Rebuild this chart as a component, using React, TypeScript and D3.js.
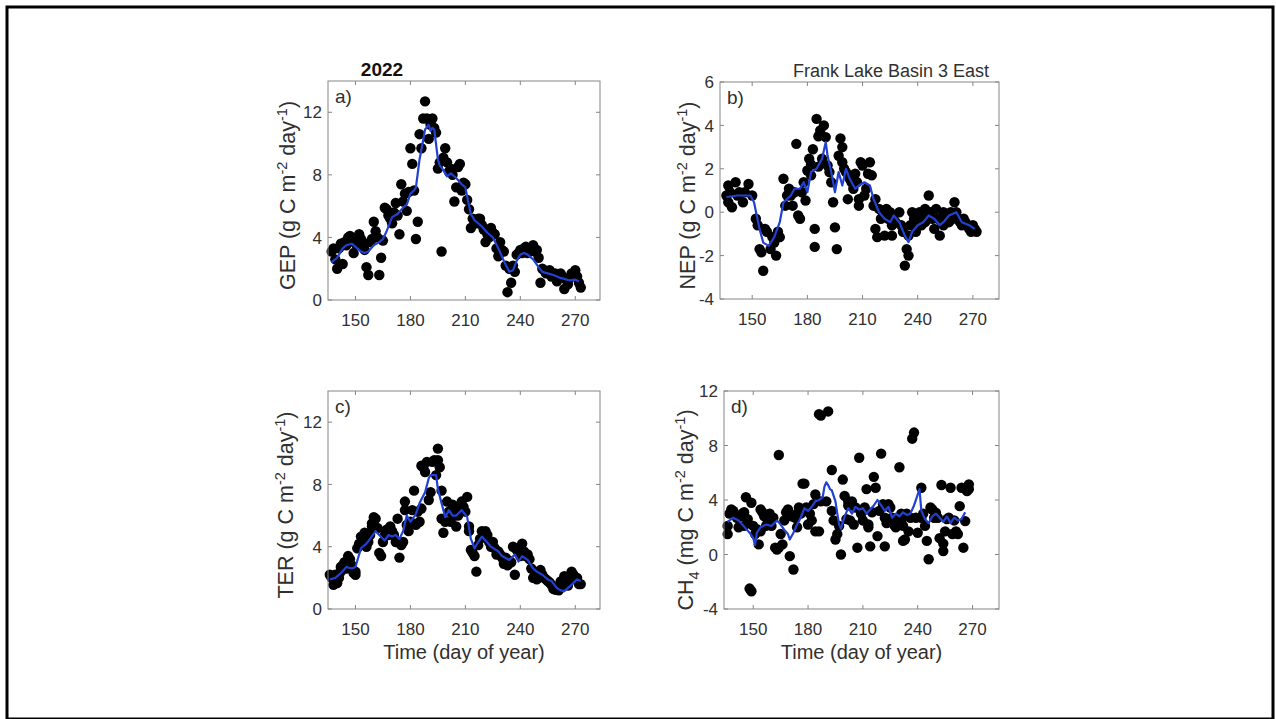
import React from 'react';
import * as d3 from 'd3';

const W = 1276;
const H = 719;

const xTicks = [150, 180, 210, 240, 270];

// ---------- a) GEP ----------
const gepDays = [137,138,139,140,141,142,143,144,145,146,147,148,149,150,151,152,153,154,155,156,157,158,159,160,161,162,163,164,165,166,167,168,169,170,171,172,173,174,175,176,177,178,179,180,181,182,183,184,185,186,187,188,189,190,191,192,193,194,195,196,197,198,199,200,201,202,203,204,205,206,207,208,209,210,211,212,213,214,215,216,217,218,219,220,221,222,223,224,225,226,227,228,229,230,231,232,233,234,235,236,237,238,239,240,241,242,243,244,245,246,247,248,249,250,251,252,253,254,255,256,257,258,259,260,261,262,263,264,265,266,267,268,269,270,271,272,273];
const gepVals = [3.1,3.3,2.6,2.0,3.3,3.6,2.3,3.7,3.5,4.0,4.1,3.8,3.0,3.6,3.7,4.2,3.9,3.5,3.2,2.1,1.6,3.7,3.9,5.0,4.4,4.0,1.6,2.7,3.8,5.9,5.8,5.4,5.2,4.9,5.6,6.2,5.4,4.2,7.4,6.3,6.8,5.7,6.9,9.7,8.7,7.0,3.9,5.0,10.6,9.7,11.6,12.7,11.6,10.3,11.2,11.6,11.0,10.7,8.4,8.8,3.1,9.1,9.7,8.8,8.2,8.4,8.0,6.3,7.2,8.5,8.7,7.0,7.5,7.4,6.4,5.8,4.6,5.2,5.0,4.9,5.2,5.2,4.8,4.5,3.7,4.2,4.0,4.6,4.3,4.2,3.3,2.8,3.7,3.2,3.1,2.2,0.5,2.0,1.1,2.2,1.8,2.9,3.0,3.2,3.0,3.3,3.4,3.0,3.2,3.3,3.5,3.1,3.2,2.7,1.1,2.0,1.9,1.7,1.8,1.9,1.5,1.6,1.7,1.2,1.6,1.7,1.5,0.7,1.3,1.0,1.4,1.7,1.6,1.9,1.5,1.1,0.8];
const gepLineDays = [137,140,143,145,148,151,153,155,157,160,163,165,167,170,173,176,178,180,182,183,185,186,188,190,191,192,193,195,196,198,200,202,205,208,210,211,213,215,219,222,225,228,231,234,236,238,240,242,244,247,250,252,255,258,261,264,267,270,272];
const gepLineVals = [2.4,2.7,3.3,3.5,3.6,3.3,3.1,3.0,3.1,3.5,3.7,3.9,4.4,5.3,5.5,5.9,6.1,6.8,7.0,7.2,9.0,9.6,10.9,11.2,10.8,11.0,10.9,9.0,8.6,8.3,7.9,8.1,7.8,7.4,7.2,6.6,5.5,5.1,4.7,4.3,4.0,3.3,2.5,1.8,1.9,2.5,2.9,3.0,2.9,2.6,2.1,1.8,1.7,1.6,1.45,1.35,1.25,1.3,1.2];

// ---------- b) NEP ----------
const nepDays = [136,137,137,138,139,141,142,143,145,146,148,150,152,153,154,155,156,157,158,160,161,162,163,164,165,167,168,169,170,171,172,173,174,175,176,177,178,179,180,181,182,182,183,184,184,185,186,186,187,188,189,190,191,192,193,194,195,196,197,198,199,199,200,201,202,203,204,205,206,207,208,208,209,210,211,212,213,214,215,216,217,217,218,219,220,221,222,223,224,225,226,226,227,228,230,231,232,233,234,235,235,236,237,238,239,240,241,242,243,244,244,245,246,247,248,249,250,251,252,253,254,254,255,256,257,258,259,260,261,262,263,264,265,266,267,268,269,270,271,272];
const nepVals = [0.77,1.23,0.46,0.92,0.23,1.38,0.77,0.92,0.46,0.92,1.3,0.77,-0.3,-0.6,-1.7,-1.85,-2.7,-0.77,-0.9,-1.7,-1.15,-1.4,-2.0,-0.9,-1.15,1.54,0.3,0.77,1.08,0.77,0.3,0.92,3.15,-0.15,-0.3,0.92,1.38,0.54,1.92,2.46,1.7,2.2,2.9,-0.77,-1.6,4.3,3.5,2.1,3.77,2.46,4.0,3.46,2.15,1.85,1.38,0.46,-0.7,-1.7,2.6,3.4,3.0,2.3,2.0,1.85,0.6,1.54,1.38,1.08,1.77,1.38,0.3,0.6,2.3,2.15,0.77,1.08,1.77,2.3,1.7,0.3,0.6,-0.77,-1.15,0.15,-0.3,0,-1.08,0.15,-0.3,0,-0.6,-1.08,-0.15,-0.46,0,-0.6,-0.9,-2.46,-1.7,-2.0,-1.08,-0.6,0,-0.3,-0.9,-0.46,0,-0.6,-0.3,0.15,-0.46,-0.08,0.77,0,-0.3,-0.77,0.15,-0.3,-1.08,-0.46,0,-0.6,-0.3,-0.15,-0.46,0,-0.3,0.46,0,-0.3,-0.46,-0.6,-0.3,-0.46,-0.6,-0.77,-0.9,-0.6,-0.77,-0.9];
const nepLineDays = [136,142,149,151,154,156,159,162,165,167,171,173,176,178,180,182,185,188,190,191,193,195,197,199,201,203,206,208,211,214,216,219,222,225,227,230,233,235,237,240,243,246,249,252,254,257,261,264,268,271];
const nepLineVals = [0.7,0.77,0.77,0.46,-0.77,-1.4,-1.55,-1.15,-0.46,0.46,0.77,1.08,1.08,1.38,0.92,1.85,2.0,2.46,3.23,2.6,1.85,0.92,1.85,1.23,2.0,1.54,1.08,1.23,1.38,1.23,0.6,0,-0.3,-0.46,-0.15,-0.46,-1.08,-1.38,-0.9,-0.6,-0.46,-0.15,-0.3,-0.6,-0.46,-0.15,0,-0.46,-0.6,-0.77];

// ---------- c) TER ----------
const terDays = [136,137,138,139,140,141,142,142,143,144,145,146,147,148,149,150,150,151,152,153,154,155,156,157,158,159,159,160,161,162,163,164,165,166,167,168,168,169,170,171,172,173,174,175,176,177,177,178,179,180,181,182,183,184,185,186,186,187,188,189,190,191,192,193,194,195,195,196,197,197,198,199,200,201,202,203,204,204,205,206,207,208,209,210,211,212,212,213,214,215,216,217,218,219,220,221,222,222,223,224,225,226,227,228,229,230,231,231,232,233,234,235,236,237,238,239,240,241,242,243,244,245,246,247,248,249,250,250,251,252,253,254,255,256,257,258,259,260,261,262,263,264,265,266,267,268,269,270,271,272,273];
const terVals = [2.2,2.0,1.55,2.2,1.66,2.0,2.7,2.4,2.8,3.0,2.6,3.4,3.2,2.8,2.3,2.4,2.2,3.9,4.2,4.65,4.4,4.9,4.0,4.3,4.75,5.3,5.5,5.9,5.8,5.2,3.6,3.4,4.3,4.75,5.1,4.75,5.0,5.3,5.0,4.75,4.3,5.8,3.3,4.1,4.3,6.35,6.9,5.4,5.0,5.6,6.35,7.6,5.4,6.25,5.6,6.45,9.2,9.1,8.8,9.45,7.0,7.5,9.45,9.55,8.6,10.3,9.55,9.1,7.6,5.8,4.9,5.6,6.9,6.25,5.6,6.7,6.0,6.45,5.3,6.0,6.45,6.9,6.55,6.25,7.2,5.3,5.0,3.8,3.6,3.4,2.4,4.1,4.5,5.0,4.65,5.0,4.75,4.5,4.3,4.0,4.3,3.9,3.5,3.7,3.5,3.3,2.9,3.2,3.3,2.8,3.1,3.0,4.0,2.2,3.8,3.7,3.4,4.2,3.7,3.4,3.5,3.2,2.6,2.0,2.2,1.9,2.4,2.3,2.5,2.2,2.0,1.9,1.8,1.7,1.55,1.3,1.24,1.34,1.2,1.77,1.5,2.1,1.98,1.5,2.0,2.4,2.2,1.9,2.0,1.6,1.6];
const terLineDays = [136,139,142,145,148,150,153,156,158,161,163,166,168,170,172,174,176,178,180,183,185,188,190,191,194,195,197,199,201,203,205,208,211,213,215,217,219,221,224,228,230,234,237,239,241,244,247,249,252,255,257,260,262,264,267,271,273];
const terLineVals = [1.9,2.0,2.3,2.7,2.6,2.7,3.9,4.2,4.5,5.0,4.75,4.4,4.75,4.65,4.75,4.5,5.0,6.0,5.6,6.1,6.8,7.5,8.4,8.6,8.6,7.7,6.8,5.9,6.35,6.0,6.0,6.35,5.9,4.5,3.9,4.3,4.65,4.4,4.0,3.7,3.4,3.15,3.5,3.05,3.4,3.15,2.6,2.4,2.2,1.9,1.8,1.34,1.2,1.15,1.45,1.9,1.8];

// ---------- d) CH4 ----------
const ch4Days = [136,136,137,138,139,141,142,143,144,145,145,146,147,148,149,149,150,151,152,153,154,154,155,156,157,158,159,160,161,162,163,164,164,165,166,167,168,169,170,171,172,173,174,174,175,176,177,178,179,180,181,182,183,184,184,186,187,186,187,190,191,193,193,194,195,196,197,198,199,200,201,202,202,203,204,205,206,207,208,209,210,211,212,213,213,214,215,216,217,218,219,220,221,222,222,223,224,225,226,227,228,230,231,231,232,232,233,234,235,236,237,238,239,240,242,242,243,244,245,246,247,248,249,250,251,252,253,254,254,255,256,257,258,259,260,261,262,263,264,265,266,267,268,268];
const ch4Vals = [1.5,2.1,3.0,3.3,3.2,2.7,2.0,2.8,3.0,2.1,3.1,4.2,2.6,-2.5,-2.7,3.8,2.1,1.5,1.85,0.74,1.7,3.3,3.1,2.8,2.1,2.5,3.0,2.1,2.7,0.5,0.37,7.3,0.5,1.5,0.74,2.5,3.1,3.3,-0.12,2.8,-1.1,2.7,3.0,2.0,3.45,3.0,5.2,5.2,3.45,2.2,3.0,2.5,3.7,4.4,1.7,10.3,10.2,1.7,3.9,3.9,10.5,6.2,3.2,2.5,1.1,1.5,2.1,0,5.5,4.3,2.6,3.9,3.6,2.5,3.9,2.2,3.45,0.5,7.1,3.0,2.5,3.45,4.8,2.2,2.0,0.6,3.1,5.7,4.9,1.35,3.2,7.4,3.7,2.7,0.6,2.3,3.7,3.45,2.7,2.2,2.0,6.4,3.0,2.5,1.0,2.1,1.1,3.0,1.7,2.7,8.5,8.95,2.7,1.6,4.9,2.7,3.0,2.1,1.0,-0.35,3.45,3.3,2.7,3.06,2.7,1.2,5.1,0.8,0.25,1.7,2.6,2.7,4.9,1.5,2.5,1.7,1.5,3.55,4.9,0.5,2.45,4.65,5.15,4.8];
const ch4LineDays = [136,139,142,144,146,148,150,151,152,154,157,160,163,165,167,169,170,172,174,176,178,180,182,184,186,188,189,190,191,192,193,195,196,197,198,200,202,204,206,208,210,212,214,216,218,220,222,224,226,228,230,232,234,236,238,240,241,242,244,246,248,250,252,254,256,258,260,262,264,266];
const ch4LineVals = [2.4,2.7,2.5,2.2,1.9,1.6,1.2,0.7,1.6,2.0,2.2,2.1,2.5,2.2,1.8,1.5,1.1,1.6,2.2,2.7,3.4,3.2,3.5,3.9,4.0,4.2,5.0,5.3,5.1,4.8,4.7,3.9,3.0,2.2,1.9,2.8,3.4,3.0,3.5,3.3,3.4,3.0,3.3,3.6,4.0,3.6,3.2,3.5,2.7,3.0,2.8,3.1,2.9,3.0,3.6,4.4,4.8,3.2,2.6,2.3,2.8,3.0,2.7,2.4,2.8,2.3,2.7,2.5,2.6,3.1];

const gepTicks = [0, 4, 8, 12];
const nepTicks = [-4, -2, 0, 2, 4, 6];
const terTicks = [0, 4, 8, 12];
const ch4Ticks = [-4, 0, 4, 8, 12];

const FONT = '"Liberation Sans", Arial, Helvetica, sans-serif';
const AXIS_COLOR = '#858585';
const TEXT_COLOR = '#303030';
const LINE_COLOR = '#2141d2';

type Box = { x0: number; x1: number; y0: number; y1: number };

function Panel(props: {
  box: Box;
  xDomain: [number, number];
  yDomain: [number, number];
  yTicks: number[];
  days: number[];
  vals: number[];
  lineDays: number[];
  lineVals: number[];
  tag: string;
  ylabel: React.ReactNode;
  ylabelX: number;
  ylabelDy: number;
  xlabel?: string;
}) {
  const { box, xDomain, yDomain, yTicks, days, vals, lineDays, lineVals, tag, ylabel, ylabelX, ylabelDy, xlabel } = props;
  const x = d3.scaleLinear().domain(xDomain).range([box.x0, box.x1]);
  const y = d3.scaleLinear().domain(yDomain).range([box.y1, box.y0]);
  const lineGen = d3
    .line<number>()
    .x((_, i) => x(lineDays[i]))
    .y((d) => y(d));
  const path = lineGen(lineVals) || '';
  const tl = 4;
  const cy = (box.y0 + box.y1) / 2;
  const cx = (box.x0 + box.x1) / 2;
  return (
    <g>
      <rect x={box.x0} y={box.y0} width={box.x1 - box.x0} height={box.y1 - box.y0} fill="#fff" stroke="none" />
      {days.map((d, i) => (
        <circle key={i} cx={x(d)} cy={y(vals[i])} r={5.2} fill="#000" />
      ))}
      <path d={path} fill="none" stroke={LINE_COLOR} strokeWidth={2.2} strokeLinejoin="round" />
      <rect x={box.x0} y={box.y0} width={box.x1 - box.x0} height={box.y1 - box.y0} fill="none" stroke={AXIS_COLOR} strokeWidth={1} />
      {xTicks.map((t) => (
        <g key={'xt' + t}>
          <line x1={x(t)} x2={x(t)} y1={box.y1} y2={box.y1 - tl} stroke={AXIS_COLOR} />
          <line x1={x(t)} x2={x(t)} y1={box.y0} y2={box.y0 + tl} stroke={AXIS_COLOR} />
          <text x={x(t)} y={box.y1 + 26} textAnchor="middle" fontSize={17} fill={TEXT_COLOR} fontFamily={FONT}>
            {t}
          </text>
        </g>
      ))}
      {yTicks.map((t) => (
        <g key={'yt' + t}>
          <line x1={box.x0} x2={box.x0 + tl} y1={y(t)} y2={y(t)} stroke={AXIS_COLOR} />
          <line x1={box.x1} x2={box.x1 - tl} y1={y(t)} y2={y(t)} stroke={AXIS_COLOR} />
          <text x={box.x0 - 6} y={y(t)} dy="0.36em" textAnchor="end" fontSize={17} fill={TEXT_COLOR} fontFamily={FONT}>
            {t}
          </text>
        </g>
      ))}
      <text x={box.x0 + 7} y={box.y0 + 22} fontSize={19} fill={TEXT_COLOR} fontFamily={FONT}>
        {tag}
      </text>
      <text
        transform={`translate(${ylabelX},${cy + ylabelDy}) rotate(-90)`}
        textAnchor="middle"
        fontSize={21.5}
        fill={TEXT_COLOR}
        fontFamily={FONT}
      >
        {ylabel}
      </text>
      {xlabel && (
        <text x={cx} y={659} textAnchor="middle" fontSize={20} fill={TEXT_COLOR} fontFamily={FONT}>
          {xlabel}
        </text>
      )}
    </g>
  );
}

export default function App() {
  const boxA: Box = { x0: 328, x1: 600, y0: 81, y1: 300 };
  const boxB: Box = { x0: 720, x1: 999, y0: 82, y1: 299 };
  const boxC: Box = { x0: 328, x1: 600, y0: 391, y1: 609 };
  const boxD: Box = { x0: 724, x1: 999, y0: 391, y1: 609 };

  const gLabel = (name: string) => (
    <>
      {name} (g C m
      <tspan dy={-8} fontSize={14.5}>-2</tspan>
      <tspan dy={8}> day</tspan>
      <tspan dy={-8} fontSize={14.5}>-1</tspan>
      <tspan dy={8}>)</tspan>
    </>
  );

  const chLabel = (
    <>
      CH
      <tspan dy={6} fontSize={14.5}>4</tspan>
      <tspan dy={-6}> (mg C m</tspan>
      <tspan dy={-8} fontSize={14.5}>-2</tspan>
      <tspan dy={8}> day</tspan>
      <tspan dy={-8} fontSize={14.5}>-1</tspan>
      <tspan dy={8}>)</tspan>
    </>
  );

  return (
    <svg
      width={W}
      height={H}
      viewBox={`0 0 ${W} ${H}`}
      style={{ position: 'absolute', left: 0, top: 0, background: '#fff' }}
    >
      <rect x={0} y={0} width={W} height={H} fill="#fff" />
      <rect x={7} y={7} width={1266} height={712} fill="none" stroke="#000" strokeWidth={3} />

      <text x={382} y={76} textAnchor="middle" fontSize={19} fontWeight="bold" fill="#111" fontFamily={FONT}>
        2022
      </text>
      <text x={989} y={77} textAnchor="end" fontSize={18} fill={TEXT_COLOR} fontFamily={FONT}>
        Frank Lake Basin 3 East
      </text>

      <Panel
        box={boxA}
        xDomain={[135, 283.5]}
        yDomain={[0, 14]}
        yTicks={gepTicks}
        days={gepDays}
        vals={gepVals}
        lineDays={gepLineDays}
        lineVals={gepLineVals}
        tag="a)"
        ylabel={gLabel('GEP')}
        ylabelX={295}
        ylabelDy={5}
      />
      <Panel
        box={boxB}
        xDomain={[132.5, 284.2]}
        yDomain={[-4, 6]}
        yTicks={nepTicks}
        days={nepDays}
        vals={nepVals}
        lineDays={nepLineDays}
        lineVals={nepLineVals}
        tag="b)"
        ylabel={gLabel('NEP')}
        ylabelX={695}
        ylabelDy={5}
      />
      <Panel
        box={boxC}
        xDomain={[135, 283.5]}
        yDomain={[0, 14]}
        yTicks={terTicks}
        days={terDays}
        vals={terVals}
        lineDays={terLineDays}
        lineVals={terLineVals}
        tag="c)"
        ylabel={gLabel('TER')}
        ylabelX={293}
        ylabelDy={5}
        xlabel="Time (day of year)"
      />
      <Panel
        box={boxD}
        xDomain={[134, 284.5]}
        yDomain={[-4, 12]}
        yTicks={ch4Ticks}
        days={ch4Days}
        vals={ch4Vals}
        lineDays={ch4LineDays}
        lineVals={ch4LineVals}
        tag="d)"
        ylabel={chLabel}
        ylabelX={693}
        ylabelDy={10}
        xlabel="Time (day of year)"
      />
    </svg>
  );
}
